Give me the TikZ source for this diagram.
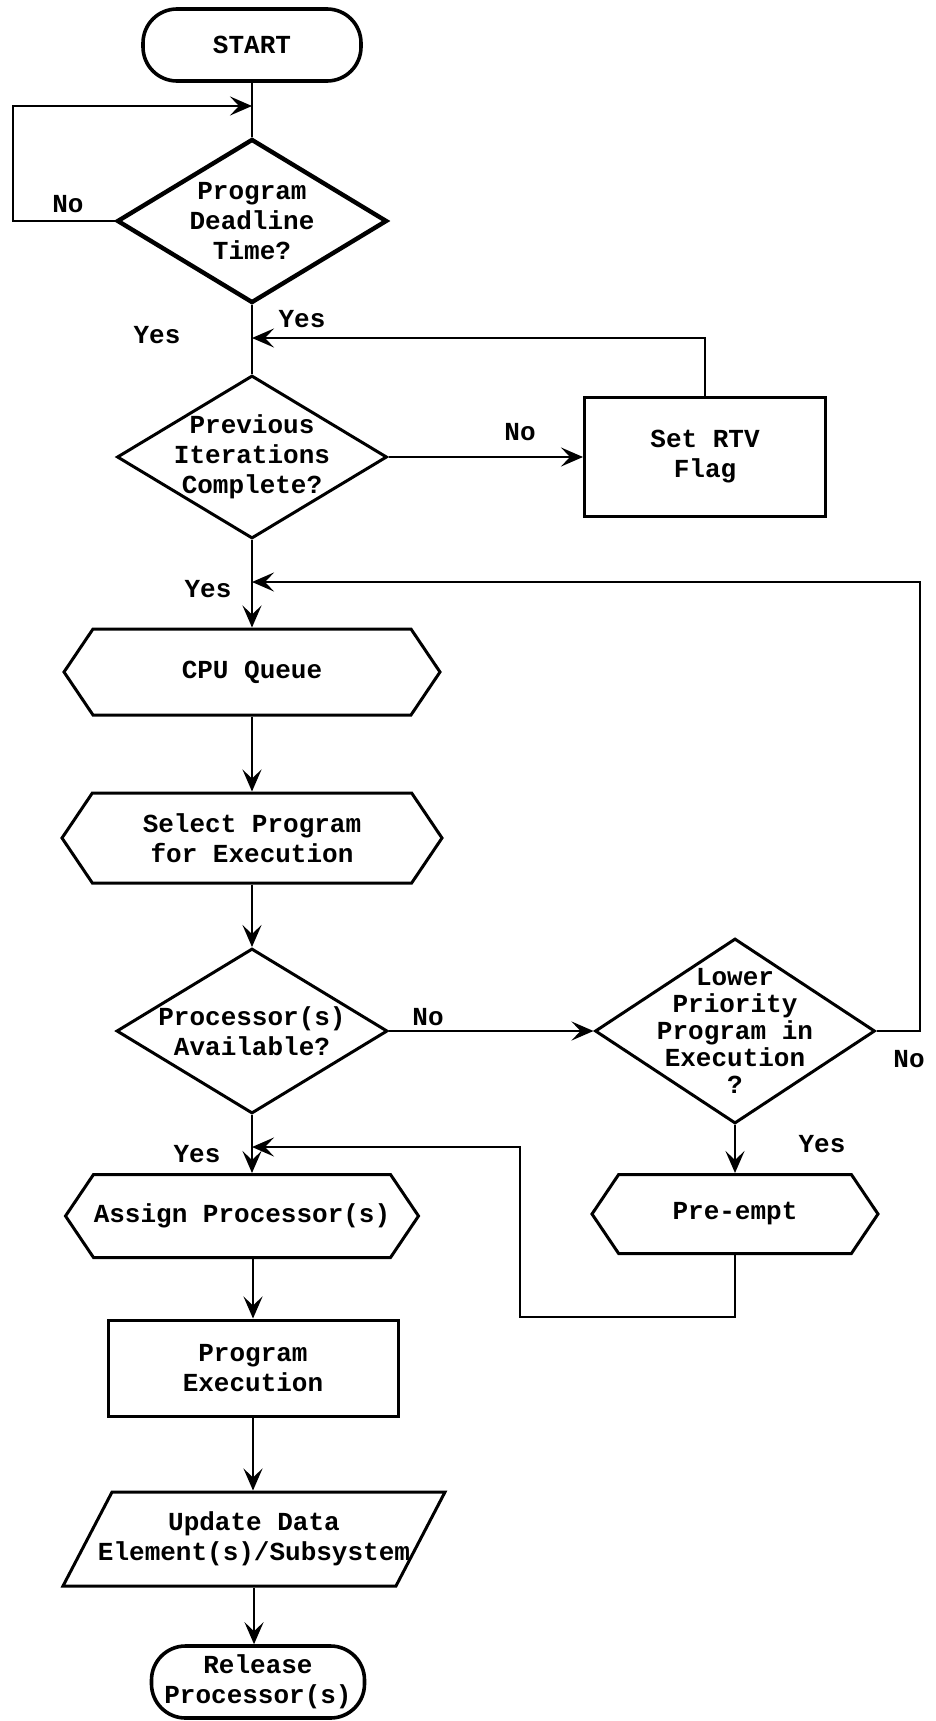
\documentclass[tikz,border=0pt]{standalone}
\usepackage{fontspec}
\setmainfont{Liberation Mono}
\usepackage{tikz}
\usetikzlibrary{arrows.meta,shapes.geometric,shapes.misc,shapes.symbols}
\newcommand{\Typ}{\fontsize{26}{30}\selectfont}
\newcommand{\TypTight}{\fontsize{26}{27}\selectfont}

\begin{document}
\begin{tikzpicture}[x=1pt,y=-1pt, font=\Typ\bfseries,
    termbox/.style={draw, line width=3.6pt, rounded corners=34pt, align=center, inner sep=0pt},
    decide/.style={draw, diamond, line width=3pt, align=center, inner sep=-30pt},
    procbox/.style={draw, rectangle, line width=3pt, align=center, inner sep=0pt},
    prepbox/.style={draw, signal, signal to=west and east, signal pointer angle=112, line width=3pt, align=center, inner sep=0pt},
    iobox/.style={draw, trapezium, trapezium left angle=62, trapezium right angle=118, trapezium stretches body, line width=3pt, align=center, inner xsep=-20pt, inner ysep=19pt},
    flow/.style={line width=2.8pt, -{Stealth[length=22pt,width=19pt,inset=9pt]}},
    plain/.style={line width=2.8pt}]
  \useasboundingbox (0,0) rectangle (936,1721);
  % main column
  \node[termbox, minimum width=218, minimum height=72] (start) at (252,45) {START};
  \node[decide, line width=4.4pt, minimum width=270, minimum height=164] (deadline) at (252,221) {Program\\Deadline\\Time?};
  \node[decide, minimum width=270, minimum height=163] (prev) at (252,457) {Previous\\Iterations\\Complete?};
  \node[procbox, minimum width=241, minimum height=119] (rtv) at (705,457) {Set RTV\\Flag};
  \node[prepbox, minimum width=376, minimum height=86] (cpuq) at (252,672) {CPU Queue};
  \node[prepbox, minimum width=380, minimum height=90] (select) at (252,838) {Select Program\\for Execution};
  \node[decide, minimum width=271, minimum height=165] (avail) at (252,1031) {Processor(s)\\Available?};
  \node[decide, minimum width=280, minimum height=185, font=\TypTight\bfseries] (lower) at (735,1031) {Lower\\Priority\\Program in\\Execution\\?};
  \node[prepbox, minimum width=286, minimum height=79] (preempt) at (735,1214) {Pre-empt};
  \node[prepbox, minimum width=353, minimum height=83] (assign) at (242,1216) {Assign Processor(s)};
  \node[procbox, minimum width=290, minimum height=96] (exec) at (253,1368) {Program\\Execution};
  \node[iobox, minimum width=382, minimum height=94] (update) at (254,1539) {Update Data\\Element(s)/Subsystem};
  \node[termbox, minimum width=213, minimum height=72] (release) at (258,1682) {Release\\Processor(s)};
  % branch labels
  \foreach \nm/\x/\y/\t in {noA/68/204/No, yesA/157/335/Yes, yesB/302/319/Yes, noB/520/432/No,
      yesC/208/589/Yes, noC/428/1017/No, noD/909/1059/No, yesD/822/1144/Yes, yesE/197/1154/Yes}{
    \node (\nm) at (\x,\y) {\t};}
  % junctions
  \coordinate (loopin) at (252,106);
  \coordinate (loopcorner) at (13,106);
  \coordinate (rtvin) at (252,338);
  \coordinate (lowin) at (252,582);
  \coordinate (lowcorner) at (920,582);
  \coordinate (preback) at (520,1317);
  \coordinate (prein) at (252,1147);
  % connectors
  \draw[plain] (start.south) -- (deadline.north);
  \draw[flow] (deadline.west) -| (loopcorner) -- (loopin);
  \draw[plain] (deadline.south) -- (prev.north);
  \draw[flow] (prev.east) -- (rtv.west);
  \draw[flow] (rtv.north) |- (rtvin);
  \draw[flow] (prev.south) -- (cpuq.north);
  \draw[flow] (cpuq.south) -- (select.north);
  \draw[flow] (select.south) -- (avail.north);
  \draw[flow] (avail.east) -- (lower.west);
  \draw[flow] (lower.east) -| (lowcorner) -- (lowin);
  \draw[flow] (lower.south) -- (preempt.north);
  \draw[flow] (preempt.south) |- (preback) |- (prein);
  \draw[flow] (avail.south) -- (avail.south |- assign.north);
  \draw[flow] (assign.south -| exec.north) -- (exec.north);
  \draw[flow] (exec.south) -- (exec.south |- update.north);
  \draw[flow] (update.south) -- (update.south |- release.north);
\end{tikzpicture}
\end{document}
